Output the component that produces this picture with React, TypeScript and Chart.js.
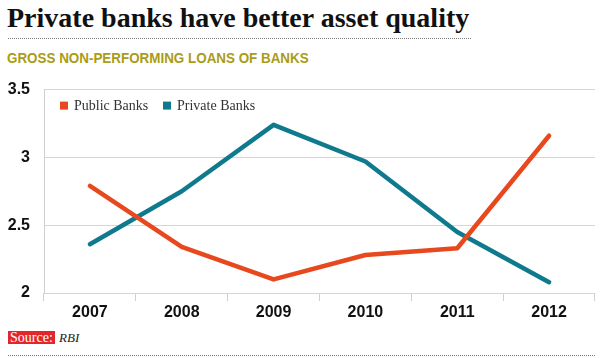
import React, { useEffect, useRef } from "react";
import { Chart, registerables } from "chart.js";

Chart.register(...registerables);

const categories = ["2007", "2008", "2009", "2010", "2011", "2012"];
const publicBanks = [2.79, 2.34, 2.1, 2.28, 2.33, 3.16];
const privateBanks = [2.36, 2.75, 3.24, 2.97, 2.45, 2.08];
const seriesNames = ["Public Banks", "Private Banks"];
const seriesColors = ["#e8481d", "#0f7a8d"];
const yTicks = [2, 2.5, 3, 3.5];

const legendPlugin = {
  id: "insideLegend",
  afterDraw(chart: any) {
    const ctx = chart.ctx;
    const { left, top } = chart.chartArea;
    const y = top + 16;
    const offsets = [16, 119];
    ctx.save();
    ctx.font = '14px "Liberation Serif"';
    ctx.textBaseline = "middle";
    chart.data.datasets.forEach((ds: any, i: number) => {
      const x = left + offsets[i];
      ctx.fillStyle = ds.borderColor;
      ctx.fillRect(x, y - 4, 8, 8);
      ctx.fillStyle = "#333";
      ctx.fillText(ds.label, x + 14, y + 1);
    });
    ctx.restore();
  },
};

export default function App() {
  const ref = useRef<HTMLCanvasElement>(null);
  useEffect(() => {
    if (!ref.current) return;
    const chart = new Chart(ref.current, {
      type: "line",
      data: {
        labels: categories,
        datasets: [
          {
            label: seriesNames[0],
            data: publicBanks,
            borderColor: seriesColors[0],
            backgroundColor: seriesColors[0],
            borderWidth: 4.5,
            pointRadius: 0,
            tension: 0,
            borderCapStyle: "round",
            borderJoinStyle: "round",
          },
          {
            label: seriesNames[1],
            data: privateBanks,
            borderColor: seriesColors[1],
            backgroundColor: seriesColors[1],
            borderWidth: 4.5,
            pointRadius: 0,
            tension: 0,
            borderCapStyle: "round",
            borderJoinStyle: "round",
          },
        ],
      },
      options: {
        animation: false,
        responsive: false,
        layout: { padding: { top: 0, right: 5, left: 0, bottom: 0 } },
        plugins: {
          legend: { display: false },
          tooltip: { enabled: false },
        },
        scales: {
          x: {
            offset: true,
            grid: {
              offset: true,
              drawOnChartArea: false,
              drawTicks: true,
              tickLength: 8,
              color: "#cfcfcf",
            },
            border: { display: false },
            ticks: {
              color: "#111",
              font: { family: '"Liberation Sans"', weight: "bold", size: 16 },
              padding: 2,
            },
            afterFit(scale: any) {
              scale.height = 32;
            },
          },
          y: {
            min: 2,
            max: 3.5,
            afterBuildTicks(scale: any) {
              scale.ticks = yTicks.map((v) => ({ value: v }));
            },
            grid: { color: "#d6d6d6", drawTicks: false },
            border: { display: true, color: "#cfcfcf" },
            ticks: {
              color: "#111",
              padding: 14,
              font: { family: '"Liberation Sans"', weight: "bold", size: 16 },
              callback: (v: any) => String(v),
            },
            afterFit(scale: any) {
              scale.width = 44;
            },
          },
        },
      },
      plugins: [legendPlugin],
    });
    return () => chart.destroy();
  }, []);

  const dotted = (top: number, width: number) => (
    <div
      style={{
        position: "absolute",
        left: 8,
        top,
        width,
        height: 0,
        borderTop: "1px dotted #777",
      }}
    />
  );

  return (
    <div style={{ position: "absolute", left: 0, top: 0, width: 600, height: 358, background: "#fff", overflow: "hidden" }}>
      <div
        style={{
          position: "absolute",
          left: 7,
          top: 1,
          font: 'bold 28px "Liberation Serif"',
          color: "#111",
          lineHeight: "34px",
          whiteSpace: "nowrap",
        }}
      >
        Private banks have better asset quality
      </div>
      {dotted(38, 463)}
      <div
        style={{
          position: "absolute",
          left: 7,
          top: 48,
          font: 'bold 15.5px "Liberation Sans"',
          color: "#a99c17",
          lineHeight: "20px",
          whiteSpace: "nowrap",
          transform: "scaleX(0.865)",
          transformOrigin: "left center",
        }}
      >
        GROSS NON-PERFORMING LOANS OF BANKS
      </div>
      <canvas ref={ref} width={600} height={259} style={{ position: "absolute", left: 0, top: 66 }} />
      <div
        style={{
          position: "absolute",
          left: 8,
          top: 331,
          height: 13,
          padding: "0 2px",
          background: "#e3262b",
          color: "#fff",
          font: '14px "Liberation Serif"',
          lineHeight: "13px",
          whiteSpace: "nowrap",
        }}
      >
        Source:
      </div>
      <div
        style={{
          position: "absolute",
          left: 59,
          top: 331,
          font: 'italic 13px "Liberation Serif"',
          color: "#222",
          lineHeight: "13px",
        }}
      >
        RBI
      </div>
      {dotted(355, 587)}
    </div>
  );
}
